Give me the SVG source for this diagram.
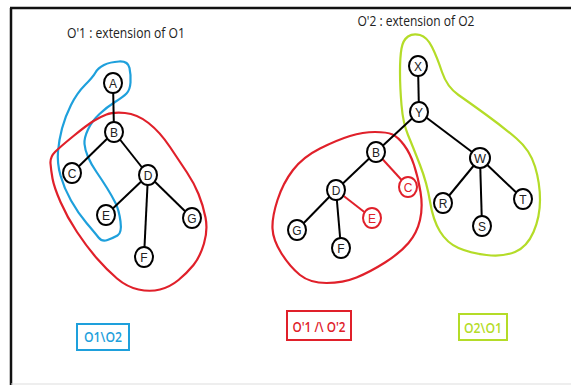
<svg xmlns="http://www.w3.org/2000/svg" width="571" height="385" viewBox="0 0 571 385">
<style>
.frame{stroke:#111;stroke-width:2.5;fill:none}
.blob{fill:none;stroke-width:2.2;stroke-linejoin:round;stroke-linecap:round}
.edge{stroke:#000;stroke-width:2}
.redge{stroke:#e0202a;stroke-width:2}
.node ellipse{fill:#fff;stroke:#000;stroke-width:2}
.node text{font-family:"Liberation Sans",Arial,sans-serif;font-size:12px;fill:#222;text-anchor:middle}
.node.red ellipse{stroke:#e0202a}
.node.red text{fill:#e0202a}
.title{font-family:"Open Sans","Liberation Sans",sans-serif;font-size:14px;fill:#222;text-anchor:middle}
.lbl{font-family:"Open Sans","Liberation Sans",sans-serif;font-size:15px;font-weight:600;text-anchor:middle}
</style>
<rect width="571" height="385" fill="#fff"/>
<line class="frame" x1="10" y1="8" x2="571" y2="8"/>
<line class="frame" x1="11" y1="8" x2="11" y2="385"/>
<line x1="11" y1="384" x2="571" y2="384" stroke="#ddd" stroke-width="1"/>

<text class="title" x="126" y="38" textLength="118" lengthAdjust="spacingAndGlyphs">O'1 : extension of O1</text>
<text class="title" x="416" y="26" textLength="117" lengthAdjust="spacingAndGlyphs">O'2 : extension of O2</text>

<g id="blobs">
<path class="blob" stroke="#1ea0dc" d="M119,61.5 Q128,61 129.5,68 Q131,75 130.5,82.5 Q130,90 126.5,93.5 Q123,97 115,102 Q107,107 99.5,114 Q92,121 88,129.5 Q84,138 84.5,144 Q85,150 88,157 Q91,164 96.5,172 Q102,180 107,188 Q112,196 115.5,203 Q119,210 120.5,221.5 Q122,233 117.5,235.5 Q113,238 107.5,240 Q102,242 98.5,237.5 Q95,233 86.5,223 Q78,213 71,200.5 Q64,188 60.5,175.5 Q57,163 58,151.5 Q59,140 62,128.5 Q65,117 71,105 Q77,93 85,85 Q93,77 95.5,72.5 Q98,68 104,65 Q110,62 119,61.5 Z"/>
<path class="blob" stroke="#e0202a" d="M125,113 Q137,114 148.5,123 Q160,132 170,147 Q180,162 187,172.5 Q194,183 198.5,194 Q203,205 205.5,217.5 Q208,230 204,243.5 Q200,257 193.5,265 Q187,273 178.5,280 Q170,287 160,289.5 Q150,292 138.5,289.5 Q127,287 117,278.5 Q107,270 97,258.5 Q87,247 77,232 Q67,217 60.5,202 Q54,187 52.5,178.5 Q51,170 50.5,163.5 Q50,157 55,152 Q60,147 73.5,136 Q87,125 93.5,121 Q100,117 106.5,114.5 Q113,112 125,113 Z"/>
<path class="blob" stroke="#e0202a" d="M392.5,134.5 Q398,137 404,145 Q410,153 414,165 Q418,177 420.5,192 Q423,207 420,220 Q417,233 408.5,243 Q400,253 385,262.5 Q370,272 356.5,277.5 Q343,283 326.5,283 Q310,283 300,275 Q290,267 281.5,253.5 Q273,240 272.5,228.5 Q272,217 277.5,200 Q283,183 293,170 Q303,157 320,148.5 Q337,140 350,136 Q363,132 375,132 Q387,132 392.5,134.5 Z"/>
<path class="blob" stroke="#b4dc28" d="M420,35 Q427,37 432,47 Q437,57 442,72 Q447,87 458.5,95 Q470,103 486.5,115 Q503,127 516.5,138.5 Q530,150 535,166.5 Q540,183 540,200 Q540,217 533.5,232 Q527,247 515,252 Q503,257 486.5,255 Q470,253 458.5,248 Q447,243 440,231.5 Q433,220 430,201.5 Q427,183 420,165 Q413,147 408,135 Q403,123 401.5,105 Q400,87 400,72 Q400,57 401.5,48.5 Q403,40 408,36.5 Q413,33 420,35 Z"/>
</g>

<g id="connectors">
<line class="edge" x1="113" y1="83" x2="114" y2="132"/>
<line class="edge" x1="114" y1="132" x2="72" y2="173"/>
<line class="edge" x1="114" y1="132" x2="148" y2="175"/>
<line class="edge" x1="148" y1="175" x2="106" y2="215"/>
<line class="edge" x1="148" y1="175" x2="144" y2="257"/>
<line class="edge" x1="148" y1="175" x2="192" y2="218"/>
<line class="edge" x1="418" y1="66" x2="419" y2="112"/>
<line class="edge" x1="419" y1="112" x2="376" y2="152"/>
<line class="edge" x1="419" y1="112" x2="480" y2="158"/>
<line class="edge" x1="376" y1="152" x2="336" y2="190"/>
<line class="redge" x1="376" y1="152" x2="408" y2="187"/>
<line class="redge" x1="336" y1="190" x2="372" y2="218"/>
<line class="edge" x1="336" y1="190" x2="297" y2="230"/>
<line class="edge" x1="336" y1="190" x2="341" y2="248"/>
<line class="edge" x1="480" y1="158" x2="443" y2="203"/>
<line class="edge" x1="480" y1="158" x2="482" y2="226"/>
<line class="edge" x1="480" y1="158" x2="523" y2="199"/>
</g>

<g id="nA" class="node"><ellipse cx="113" cy="83" rx="9" ry="10"/><text x="113" y="87.5">A</text></g>
<g id="nB1" class="node"><ellipse cx="114" cy="132" rx="9" ry="10"/><text x="114" y="136.5">B</text></g>
<g id="nC1" class="node"><ellipse cx="72" cy="173" rx="9" ry="10"/><text x="72" y="177.5">C</text></g>
<g id="nD1" class="node"><ellipse cx="148" cy="175" rx="9" ry="10"/><text x="148" y="179.5">D</text></g>
<g id="nE1" class="node"><ellipse cx="106" cy="215" rx="9" ry="10"/><text x="106" y="219.5">E</text></g>
<g id="nG1" class="node"><ellipse cx="192" cy="218" rx="9" ry="10"/><text x="192" y="222.5">G</text></g>
<g id="nF1" class="node"><ellipse cx="144" cy="257" rx="9" ry="10"/><text x="144" y="261.5">F</text></g>

<g id="nX" class="node"><ellipse cx="418" cy="66" rx="9" ry="10"/><text x="418" y="70.5">X</text></g>
<g id="nY" class="node"><ellipse cx="419" cy="112" rx="9" ry="10"/><text x="419" y="116.5">Y</text></g>
<g id="nB2" class="node"><ellipse cx="376" cy="152" rx="9" ry="10"/><text x="376" y="156.5">B</text></g>
<g id="nW" class="node"><ellipse cx="480" cy="158" rx="10" ry="10"/><text x="480" y="162.5" textLength="12" lengthAdjust="spacingAndGlyphs">W</text></g>
<g id="nC2" class="node red"><ellipse cx="408" cy="187" rx="9" ry="10"/><text x="408" y="191.5">C</text></g>
<g id="nD2" class="node"><ellipse cx="336" cy="190" rx="9" ry="10"/><text x="336" y="194.5">D</text></g>
<g id="nE2" class="node red"><ellipse cx="372" cy="218" rx="9" ry="10"/><text x="372" y="222.5">E</text></g>
<g id="nG2" class="node"><ellipse cx="297" cy="230" rx="9" ry="10"/><text x="297" y="234.5">G</text></g>
<g id="nF2" class="node"><ellipse cx="341" cy="248" rx="9" ry="10"/><text x="341" y="252.5">F</text></g>
<g id="nR" class="node"><ellipse cx="443" cy="203" rx="9" ry="10"/><text x="443" y="207.5">R</text></g>
<g id="nS" class="node"><ellipse cx="482" cy="226" rx="9" ry="10"/><text x="482" y="230.5">S</text></g>
<g id="nT" class="node"><ellipse cx="523" cy="199" rx="9" ry="10"/><text x="523" y="203.5">T</text></g>

<g id="lblBlue"><rect x="77" y="324" width="52" height="26" fill="none" stroke="#1ea0dc" stroke-width="2"/><text class="lbl" x="103" y="342" fill="#1ea0dc" textLength="38" lengthAdjust="spacingAndGlyphs">O1\O2</text></g>
<g id="lblRed"><rect x="287" y="311" width="64" height="29" fill="none" stroke="#e0202a" stroke-width="2"/><text class="lbl" x="319" y="332" fill="#e0202a" textLength="53" lengthAdjust="spacingAndGlyphs">O'1 /\ O'2</text></g>
<g id="lblGreen"><rect x="459" y="314" width="48" height="26" fill="none" stroke="#b4dc28" stroke-width="2"/><text class="lbl" x="483" y="333" fill="#b4dc28" textLength="38" lengthAdjust="spacingAndGlyphs">O2\O1</text></g>
</svg>
